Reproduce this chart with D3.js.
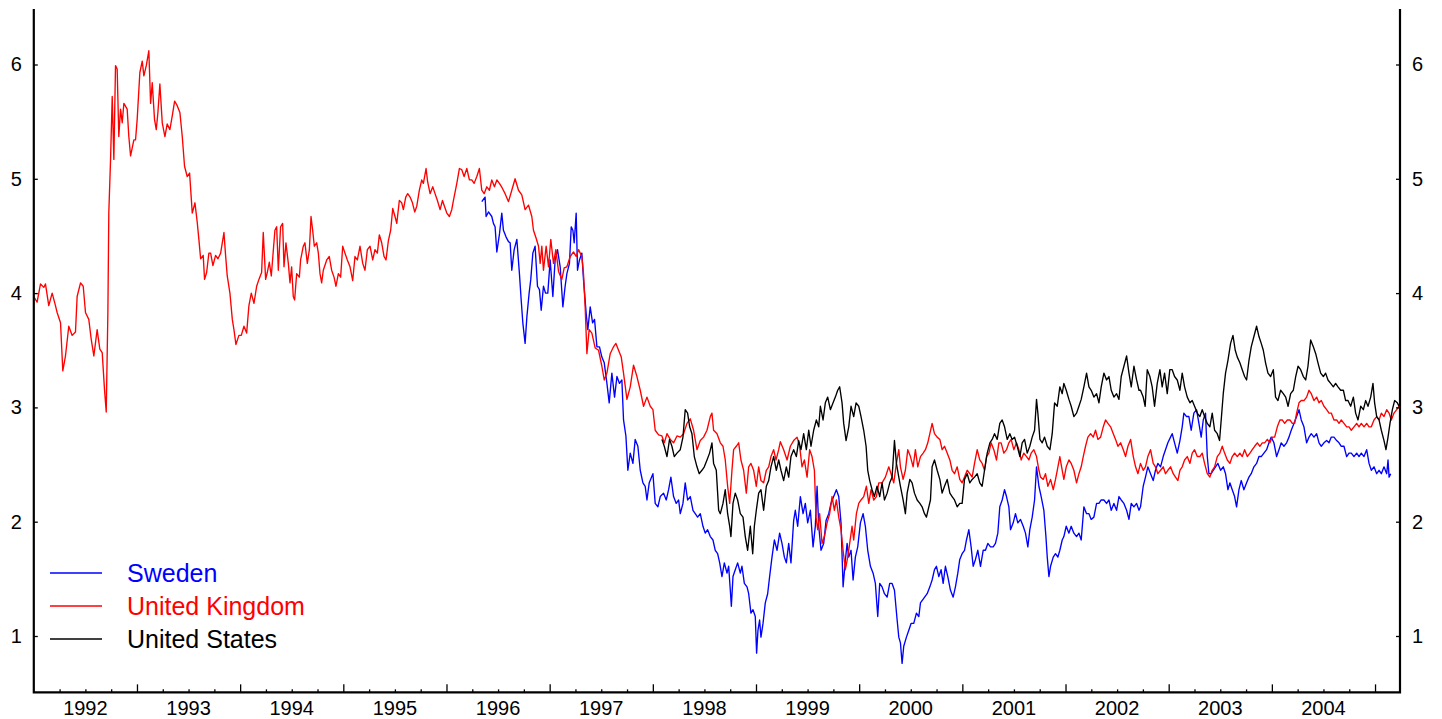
<!DOCTYPE html>
<html>
<head>
<meta charset="utf-8">
<script src="https://cdn.jsdelivr.net/npm/d3@7"></script>
<style>
  html, body { margin: 0; padding: 0; background: #fff; }
  svg { display: block; }
</style>
</head>
<body>
<svg id="chart" width="1442" height="719"></svg>
<script>
// ---- Data: [decimal year, value] ----
const ukData = [
[1992.000,3.97],[1992.032,3.92],[1992.065,4.08],[1992.097,4.05],[1992.113,4.08],[1992.145,3.89],[1992.178,4.00],[1992.210,3.89],
[1992.226,3.83],[1992.259,3.74],[1992.281,3.32],[1992.307,3.45],[1992.339,3.71],[1992.372,3.63],[1992.404,3.66],[1992.420,3.97],
[1992.453,4.09],[1992.479,4.06],[1992.501,3.83],[1992.533,3.77],[1992.556,3.60],[1992.582,3.45],[1992.614,3.68],[1992.640,3.51],
[1992.663,3.48],[1992.685,3.16],[1992.702,2.96],[1992.718,3.83],[1992.727,4.70],[1992.744,5.17],[1992.760,5.72],[1992.776,5.17],
[1992.792,5.99],[1992.808,5.96],[1992.824,5.37],[1992.841,5.61],[1992.857,5.49],[1992.873,5.66],[1992.905,5.61],[1992.921,5.37],
[1992.938,5.20],[1992.970,5.34],[1992.986,5.34],[1993.002,5.52],[1993.028,5.93],[1993.051,6.03],[1993.067,5.90],[1993.090,5.99],
[1993.115,6.12],[1993.132,5.66],[1993.148,5.84],[1993.170,5.52],[1993.187,5.43],[1993.203,5.58],[1993.222,5.83],[1993.245,5.49],
[1993.271,5.37],[1993.293,5.48],[1993.319,5.43],[1993.342,5.55],[1993.365,5.68],[1993.390,5.64],[1993.416,5.58],[1993.439,5.37],
[1993.461,5.11],[1993.487,5.02],[1993.510,5.05],[1993.536,4.70],[1993.562,4.79],[1993.584,4.62],[1993.600,4.47],[1993.617,4.30],
[1993.642,4.33],[1993.655,4.12],[1993.675,4.18],[1993.697,4.35],[1993.714,4.35],[1993.736,4.24],[1993.762,4.33],[1993.785,4.30],
[1993.811,4.35],[1993.843,4.53],[1993.859,4.33],[1993.875,4.15],[1993.901,4.00],[1993.924,3.77],[1993.940,3.68],[1993.959,3.55],
[1993.988,3.63],[1994.011,3.63],[1994.037,3.71],[1994.063,3.65],[1994.085,3.89],[1994.108,4.00],[1994.134,3.91],[1994.160,4.06],
[1994.182,4.12],[1994.208,4.18],[1994.224,4.53],[1994.247,4.12],[1994.263,4.18],[1994.283,4.27],[1994.302,4.15],
[1994.337,4.55],[1994.354,4.58],[1994.370,4.20],[1994.392,4.58],[1994.412,4.61],[1994.425,4.23],[1994.444,4.44],[1994.467,4.26],
[1994.483,4.09],[1994.499,4.23],[1994.515,3.97],[1994.528,3.94],[1994.548,4.17],[1994.574,4.14],[1994.586,4.29],[1994.612,4.41],
[1994.628,4.44],[1994.651,4.26],[1994.671,4.38],[1994.687,4.67],[1994.703,4.55],[1994.719,4.41],[1994.742,4.44],[1994.758,4.35],
[1994.774,4.17],[1994.790,4.09],[1994.806,4.20],[1994.839,4.29],[1994.864,4.32],[1994.887,4.20],[1994.910,4.14],[1994.929,4.06],
[1994.952,4.17],[1994.974,4.14],[1994.994,4.41],[1995.016,4.35],[1995.039,4.29],[1995.065,4.23],[1995.091,4.11],[1995.113,4.32],
[1995.136,4.29],[1995.162,4.41],[1995.188,4.26],[1995.210,4.20],[1995.233,4.38],[1995.259,4.41],[1995.285,4.29],[1995.307,4.38],
[1995.330,4.35],[1995.349,4.51],[1995.372,4.44],[1995.395,4.32],[1995.414,4.29],[1995.437,4.46],[1995.459,4.55],[1995.479,4.74],
[1995.501,4.67],[1995.518,4.61],[1995.543,4.81],[1995.566,4.79],[1995.582,4.73],[1995.605,4.84],[1995.624,4.87],[1995.647,4.84],
[1995.670,4.79],[1995.692,4.71],[1995.712,4.76],[1995.737,4.90],[1995.760,4.99],[1995.776,4.96],[1995.802,5.09],[1995.818,4.97],
[1995.841,4.87],[1995.867,4.93],[1995.889,4.87],[1995.912,4.81],[1995.938,4.73],[1995.961,4.81],[1995.980,4.76],[1996.003,4.70],
[1996.028,4.67],[1996.051,4.73],[1996.067,4.81],[1996.100,4.96],[1996.125,5.09],[1996.148,5.08],[1996.171,5.02],[1996.197,5.09],
[1996.222,4.99],[1996.245,4.99],[1996.268,4.96],[1996.294,5.02],[1996.319,5.09],[1996.342,4.90],[1996.365,4.87],[1996.391,4.93],
[1996.416,4.90],[1996.439,4.99],[1996.465,4.93],[1996.488,4.99],[1996.513,4.96],[1996.540,4.92],[1996.568,4.87],[1996.601,4.80],
[1996.633,4.90],[1996.665,5.00],[1996.698,4.90],[1996.730,4.86],[1996.762,4.73],[1996.795,4.77],[1996.827,4.67],[1996.843,4.55],
[1996.869,4.48],[1996.892,4.41],[1996.908,4.26],[1996.924,4.41],[1996.940,4.20],[1996.966,4.41],[1996.989,4.23],[1997.011,4.47],
[1997.037,4.26],[1997.060,4.38],[1997.086,4.19],[1997.118,4.12],[1997.141,4.22],[1997.167,4.23],[1997.199,4.32],[1997.231,4.36],
[1997.257,4.32],[1997.280,4.38],[1997.312,4.32],[1997.328,4.17],[1997.344,3.88],[1997.361,3.47],[1997.383,3.68],[1997.409,3.65],
[1997.441,3.52],[1997.474,3.50],[1997.506,3.36],[1997.529,3.24],[1997.555,3.30],[1997.587,3.47],[1997.619,3.53],[1997.642,3.56],
[1997.668,3.50],[1997.694,3.44],[1997.716,3.30],[1997.749,3.07],[1997.781,3.18],[1997.813,3.37],[1997.846,3.27],[1997.878,3.15],
[1997.910,3.01],[1997.943,3.09],[1997.975,3.01],[1998.001,2.98],[1998.023,2.80],[1998.056,2.76],[1998.088,2.75],[1998.111,2.69],
[1998.137,2.77],[1998.169,2.72],[1998.201,2.69],[1998.234,2.75],[1998.266,2.74],[1998.298,2.77],[1998.331,2.86],[1998.363,2.90],
[1998.395,2.80],[1998.428,2.63],[1998.460,2.71],[1998.492,2.74],[1998.525,2.80],[1998.557,2.92],[1998.573,2.95],[1998.589,2.80],
[1998.622,2.77],[1998.654,2.69],[1998.680,2.66],[1998.702,2.54],[1998.725,2.31],[1998.745,2.16],[1998.767,2.45],[1998.783,2.63],
[1998.809,2.66],[1998.832,2.69],[1998.854,2.54],[1998.880,2.45],[1998.906,2.25],[1998.929,2.48],[1998.951,2.51],[1998.977,2.45],
[1999.003,2.31],[1999.026,2.48],[1999.048,2.36],[1999.074,2.34],[1999.100,2.45],[1999.123,2.48],[1999.145,2.57],[1999.171,2.63],
[1999.194,2.54],[1999.220,2.63],[1999.236,2.70],[1999.268,2.63],[1999.301,2.54],[1999.333,2.66],[1999.365,2.71],[1999.398,2.74],
[1999.423,2.66],[1999.446,2.48],[1999.469,2.54],[1999.495,2.39],[1999.520,2.63],[1999.543,2.57],[1999.566,2.45],[1999.582,2.04],
[1999.598,1.93],[1999.617,2.07],[1999.640,1.81],[1999.663,1.87],[1999.689,1.99],[1999.714,2.07],[1999.737,2.22],[1999.760,2.10],
[1999.779,2.19],[1999.802,2.04],[1999.824,1.93],[1999.844,1.75],[1999.866,1.58],[1999.889,1.69],[1999.908,1.81],[1999.931,1.96],
[1999.947,1.84],[1999.973,2.07],[1999.996,2.16],[2000.018,2.19],[2000.044,2.22],[2000.070,2.31],[2000.093,2.16],[2000.115,2.28],
[2000.141,2.19],[2000.167,2.22],[2000.190,2.34],[2000.222,2.34],[2000.254,2.39],[2000.287,2.48],[2000.309,2.42],[2000.335,2.34],
[2000.361,2.51],[2000.384,2.63],[2000.400,2.48],[2000.426,2.37],[2000.448,2.45],[2000.471,2.63],[2000.497,2.57],[2000.523,2.48],
[2000.545,2.63],[2000.568,2.48],[2000.594,2.57],[2000.620,2.60],[2000.642,2.63],[2000.665,2.69],[2000.685,2.77],[2000.707,2.86],
[2000.730,2.77],[2000.756,2.74],[2000.782,2.72],[2000.804,2.63],[2000.827,2.66],[2000.853,2.60],[2000.879,2.54],[2000.901,2.45],
[2000.924,2.42],[2000.950,2.48],[2000.975,2.37],[2000.998,2.34],[2001.021,2.39],[2001.047,2.45],[2001.072,2.42],[2001.095,2.39],
[2001.118,2.51],[2001.144,2.63],[2001.169,2.54],[2001.192,2.51],[2001.215,2.45],[2001.234,2.57],[2001.257,2.60],[2001.279,2.69],
[2001.305,2.63],[2001.331,2.54],[2001.354,2.69],[2001.376,2.69],[2001.402,2.60],[2001.428,2.63],[2001.451,2.69],[2001.473,2.72],
[2001.499,2.63],[2001.525,2.69],[2001.548,2.63],[2001.570,2.54],[2001.596,2.60],[2001.622,2.57],[2001.645,2.54],[2001.667,2.60],
[2001.693,2.63],[2001.719,2.57],[2001.742,2.45],[2001.758,2.39],[2001.784,2.37],[2001.806,2.42],[2001.829,2.31],[2001.855,2.37],
[2001.881,2.28],[2001.903,2.37],[2001.920,2.45],[2001.945,2.57],[2001.968,2.45],[2001.984,2.37],[2002.007,2.48],[2002.033,2.54],
[2002.055,2.51],[2002.081,2.45],[2002.107,2.34],[2002.130,2.42],[2002.152,2.48],[2002.172,2.57],[2002.194,2.66],[2002.217,2.74],
[2002.243,2.77],[2002.269,2.74],[2002.291,2.80],[2002.314,2.72],[2002.340,2.74],[2002.366,2.83],[2002.388,2.89],[2002.411,2.86],
[2002.437,2.83],[2002.463,2.77],[2002.485,2.72],[2002.508,2.66],[2002.534,2.69],[2002.560,2.63],[2002.582,2.57],[2002.605,2.66],
[2002.631,2.72],[2002.657,2.57],[2002.679,2.48],[2002.702,2.42],[2002.727,2.51],[2002.753,2.45],[2002.775,2.48],[2002.798,2.57],
[2002.824,2.63],[2002.850,2.51],[2002.872,2.48],[2002.895,2.42],[2002.921,2.45],[2002.947,2.48],[2002.969,2.42],[2002.992,2.45],
[2003.018,2.48],[2003.044,2.42],[2003.066,2.39],[2003.089,2.36],[2003.109,2.45],[2003.131,2.48],[2003.154,2.54],[2003.180,2.57],
[2003.206,2.51],[2003.228,2.60],[2003.251,2.63],[2003.277,2.57],[2003.302,2.57],[2003.325,2.60],[2003.348,2.51],[2003.374,2.42],
[2003.399,2.39],[2003.422,2.45],[2003.445,2.48],[2003.471,2.57],[2003.496,2.60],[2003.519,2.66],[2003.542,2.60],[2003.568,2.54],
[2003.593,2.51],[2003.616,2.57],[2003.639,2.60],[2003.665,2.57],[2003.690,2.60],[2003.713,2.57],[2003.736,2.63],[2003.762,2.57],
[2003.787,2.60],[2003.810,2.63],[2003.833,2.66],[2003.859,2.69],[2003.884,2.66],[2003.907,2.69],[2003.930,2.69],[2003.956,2.72],
[2003.981,2.69],[2004.004,2.74],[2004.027,2.74],[2004.053,2.83],[2004.078,2.89],[2004.101,2.89],[2004.124,2.86],[2004.150,2.89],
[2004.175,2.89],[2004.198,2.86],[2004.221,2.86],[2004.240,2.95],[2004.263,3.04],[2004.285,3.06],[2004.311,3.06],[2004.337,3.09],
[2004.360,3.15],[2004.382,3.12],[2004.408,3.06],[2004.434,3.09],[2004.457,3.04],[2004.479,3.06],[2004.505,3.01],[2004.531,2.98],
[2004.554,2.95],[2004.576,2.95],[2004.602,2.89],[2004.628,2.89],[2004.651,2.86],[2004.673,2.89],[2004.699,2.86],[2004.725,2.83],
[2004.748,2.83],[2004.770,2.80],[2004.796,2.83],[2004.822,2.86],[2004.845,2.83],[2004.867,2.86],[2004.893,2.83],[2004.919,2.86],
[2004.942,2.83],[2004.964,2.83],[2004.990,2.89],[2005.016,2.92],[2005.039,2.89],[2005.061,2.95],[2005.087,2.92],[2005.113,2.98],
[2005.136,2.95],[2005.158,2.89],[2005.184,2.95],[2005.210,2.98],[2005.233,3.01]
];

const swedenData = [
[1996.342,4.80],[1996.374,4.84],[1996.384,4.67],[1996.407,4.71],[1996.439,4.67],[1996.455,4.61],[1996.471,4.58],[1996.488,4.36],
[1996.514,4.52],[1996.536,4.70],[1996.552,4.55],[1996.578,4.49],[1996.601,4.45],[1996.617,4.44],[1996.633,4.20],[1996.656,4.38],
[1996.682,4.47],[1996.707,4.17],[1996.724,3.94],[1996.740,3.74],[1996.762,3.56],[1996.779,3.79],[1996.801,4.00],[1996.817,4.12],
[1996.837,4.35],[1996.859,4.41],[1996.882,4.06],[1996.901,4.03],[1996.918,3.85],[1996.940,4.06],[1996.960,4.00],[1996.982,4.00],
[1997.005,4.29],[1997.031,3.97],[1997.053,4.29],[1997.076,4.38],[1997.102,4.23],[1997.128,3.88],[1997.150,4.06],[1997.167,4.17],
[1997.192,4.26],[1997.209,4.58],[1997.225,4.55],[1997.238,4.44],[1997.257,4.70],[1997.270,4.20],[1997.289,4.29],[1997.312,4.35],
[1997.328,4.12],[1997.354,3.82],[1997.370,3.68],[1997.393,3.88],[1997.416,3.74],[1997.435,3.77],[1997.458,3.53],[1997.483,3.53],
[1997.506,3.44],[1997.529,3.39],[1997.555,3.21],[1997.577,3.04],[1997.603,3.30],[1997.629,3.09],[1997.652,3.27],[1997.677,3.21],
[1997.700,3.24],[1997.716,2.89],[1997.739,2.75],[1997.758,2.45],[1997.781,2.60],[1997.807,2.51],[1997.829,2.72],[1997.855,2.66],
[1997.878,2.45],[1997.904,2.34],[1997.926,2.31],[1997.943,2.19],[1997.965,2.34],[1998.001,2.42],[1998.023,2.16],[1998.049,2.13],
[1998.072,2.22],[1998.104,2.25],[1998.130,2.19],[1998.153,2.28],[1998.175,2.39],[1998.201,2.22],[1998.227,2.16],[1998.250,2.19],
[1998.266,2.07],[1998.292,2.16],[1998.314,2.34],[1998.337,2.19],[1998.363,2.22],[1998.389,2.10],[1998.411,2.07],[1998.434,2.04],
[1998.460,2.07],[1998.486,1.96],[1998.508,1.90],[1998.531,1.93],[1998.557,1.87],[1998.583,1.84],[1998.605,1.75],[1998.628,1.72],
[1998.648,1.64],[1998.670,1.52],[1998.693,1.64],[1998.719,1.55],[1998.735,1.61],[1998.751,1.40],[1998.761,1.26],[1998.777,1.52],
[1998.799,1.58],[1998.822,1.64],[1998.848,1.55],[1998.864,1.61],[1998.887,1.46],[1998.913,1.43],[1998.929,1.37],[1998.951,1.20],
[1998.971,1.23],[1998.993,1.17],[1999.006,0.85],[1999.019,1.05],[1999.035,1.14],[1999.048,0.99],[1999.068,1.11],[1999.090,1.29],
[1999.113,1.37],[1999.132,1.52],[1999.155,1.69],[1999.178,1.84],[1999.204,1.75],[1999.229,1.90],[1999.252,1.81],[1999.275,1.69],
[1999.294,1.64],[1999.317,1.81],[1999.339,1.64],[1999.365,2.01],[1999.381,2.10],[1999.404,1.96],[1999.430,2.22],[1999.456,2.07],
[1999.478,2.16],[1999.501,1.99],[1999.527,2.10],[1999.553,1.78],[1999.575,1.96],[1999.592,2.31],[1999.608,1.96],[1999.630,1.75],
[1999.656,1.81],[1999.679,2.01],[1999.705,2.07],[1999.727,2.16],[1999.753,2.22],[1999.779,2.28],[1999.802,2.22],[1999.824,1.99],
[1999.844,1.43],[1999.866,1.66],[1999.883,1.81],[1999.899,1.69],[1999.921,1.75],[1999.941,1.49],[1999.963,1.69],[1999.986,1.78],
[2000.012,1.99],[2000.038,2.07],[2000.060,1.96],[2000.083,1.75],[2000.109,1.61],[2000.135,1.55],[2000.157,1.46],[2000.180,1.17],
[2000.199,1.46],[2000.222,1.43],[2000.245,1.37],[2000.271,1.34],[2000.296,1.46],[2000.319,1.46],[2000.342,1.40],[2000.368,1.14],
[2000.384,0.99],[2000.400,0.94],[2000.416,0.76],[2000.432,0.91],[2000.458,0.99],[2000.481,1.05],[2000.503,1.11],[2000.529,1.11],
[2000.555,1.20],[2000.578,1.17],[2000.594,1.29],[2000.659,1.37],[2000.685,1.43],[2000.707,1.49],[2000.730,1.58],[2000.749,1.61],
[2000.772,1.52],[2000.794,1.58],[2000.814,1.46],[2000.836,1.61],[2000.859,1.52],[2000.885,1.40],[2000.911,1.34],[2000.933,1.43],
[2000.956,1.55],[2000.975,1.67],[2000.998,1.72],[2001.021,1.75],[2001.040,1.84],[2001.063,1.93],[2001.085,1.78],[2001.105,1.61],
[2001.127,1.67],[2001.150,1.75],[2001.176,1.61],[2001.202,1.75],[2001.224,1.75],[2001.247,1.81],[2001.273,1.78],[2001.299,1.78],
[2001.321,1.81],[2001.344,1.90],[2001.363,2.13],[2001.386,2.19],[2001.409,2.28],[2001.428,2.22],[2001.451,2.13],[2001.467,1.93],
[2001.493,1.99],[2001.515,2.07],[2001.538,1.99],[2001.564,2.02],[2001.590,1.96],[2001.612,1.90],[2001.635,1.78],[2001.654,1.93],
[2001.677,2.04],[2001.700,2.19],[2001.719,2.48],[2001.742,2.31],[2001.764,2.22],[2001.790,2.10],[2001.810,1.87],[2001.823,1.69],
[2001.839,1.52],[2001.855,1.61],[2001.881,1.69],[2001.903,1.72],[2001.926,1.69],[2001.945,1.75],[2001.968,1.84],[2001.984,1.87],
[2002.007,1.96],[2002.033,1.90],[2002.055,1.96],[2002.081,1.90],[2002.107,1.87],[2002.130,1.90],[2002.152,1.84],[2002.178,2.13],
[2002.204,2.07],[2002.227,2.07],[2002.249,2.02],[2002.275,2.04],[2002.301,2.16],[2002.324,2.16],[2002.346,2.19],[2002.372,2.19],
[2002.398,2.16],[2002.421,2.19],[2002.443,2.10],[2002.469,2.16],[2002.495,2.10],[2002.518,2.22],[2002.540,2.19],[2002.566,2.16],
[2002.592,2.10],[2002.615,2.02],[2002.637,2.16],[2002.663,2.13],[2002.689,2.16],[2002.712,2.10],[2002.727,2.13],[2002.753,2.31],
[2002.775,2.39],[2002.798,2.48],[2002.824,2.42],[2002.850,2.36],[2002.872,2.45],[2002.895,2.51],[2002.921,2.48],[2002.947,2.57],
[2002.969,2.63],[2002.992,2.69],[2003.018,2.74],[2003.034,2.77],[2003.057,2.69],[2003.083,2.60],[2003.109,2.71],[2003.131,2.83],
[2003.147,2.95],[2003.173,2.92],[2003.196,2.92],[2003.218,2.80],[2003.244,2.95],[2003.270,2.98],[2003.293,2.86],[2003.315,2.74],
[2003.335,2.89],[2003.357,2.95],[2003.374,2.57],[2003.390,2.42],[2003.412,2.42],[2003.432,2.45],[2003.454,2.48],[2003.477,2.51],
[2003.503,2.45],[2003.529,2.48],[2003.551,2.42],[2003.574,2.28],[2003.593,2.34],[2003.616,2.28],[2003.639,2.22],[2003.658,2.13],
[2003.681,2.28],[2003.703,2.36],[2003.729,2.28],[2003.755,2.34],[2003.778,2.39],[2003.800,2.42],[2003.826,2.48],[2003.852,2.51],
[2003.875,2.57],[2003.897,2.57],[2003.923,2.60],[2003.949,2.63],[2003.972,2.69],[2003.994,2.74],[2004.020,2.69],[2004.046,2.57],
[2004.069,2.63],[2004.091,2.69],[2004.117,2.66],[2004.143,2.69],[2004.166,2.74],[2004.188,2.80],[2004.214,2.86],[2004.240,2.92],
[2004.263,2.98],[2004.285,2.89],[2004.311,2.83],[2004.337,2.69],[2004.360,2.74],[2004.382,2.77],[2004.408,2.74],[2004.434,2.77],
[2004.457,2.69],[2004.479,2.66],[2004.505,2.69],[2004.531,2.71],[2004.554,2.69],[2004.576,2.74],[2004.602,2.74],[2004.628,2.71],
[2004.651,2.69],[2004.673,2.66],[2004.699,2.66],[2004.725,2.57],[2004.748,2.60],[2004.770,2.60],[2004.796,2.57],[2004.822,2.60],
[2004.845,2.57],[2004.867,2.60],[2004.893,2.57],[2004.919,2.63],[2004.942,2.51],[2004.964,2.45],[2004.990,2.48],[2005.016,2.42],
[2005.039,2.45],[2005.061,2.42],[2005.087,2.48],[2005.113,2.42],[2005.126,2.54],[2005.136,2.39],[2005.152,2.42]
];

const usData = [
[1998.088,2.72],[1998.111,2.66],[1998.137,2.57],[1998.162,2.72],[1998.185,2.66],[1998.208,2.57],[1998.234,2.60],[1998.266,2.63],
[1998.292,2.74],[1998.314,2.98],[1998.337,2.95],[1998.357,2.83],[1998.379,2.77],[1998.402,2.57],[1998.428,2.48],[1998.450,2.42],
[1998.476,2.45],[1998.499,2.48],[1998.525,2.54],[1998.550,2.60],[1998.573,2.69],[1998.589,2.51],[1998.615,2.45],[1998.638,2.10],
[1998.654,2.07],[1998.680,2.16],[1998.702,2.28],[1998.725,2.07],[1998.745,1.96],[1998.757,1.87],[1998.777,2.16],[1998.799,2.25],
[1998.822,2.19],[1998.848,2.07],[1998.874,2.04],[1998.896,1.87],[1998.919,1.75],[1998.945,1.96],[1998.968,1.72],[1998.984,1.96],
[1999.003,2.10],[1999.026,2.25],[1999.048,2.28],[1999.074,2.10],[1999.100,2.31],[1999.123,2.36],[1999.145,2.48],[1999.171,2.57],
[1999.197,2.45],[1999.220,2.54],[1999.242,2.45],[1999.268,2.36],[1999.294,2.48],[1999.317,2.39],[1999.339,2.57],[1999.365,2.63],
[1999.391,2.57],[1999.414,2.71],[1999.436,2.63],[1999.462,2.77],[1999.488,2.63],[1999.511,2.80],[1999.533,2.66],[1999.559,2.80],
[1999.585,2.89],[1999.608,2.83],[1999.624,3.01],[1999.650,2.89],[1999.672,3.04],[1999.695,3.09],[1999.721,2.98],[1999.747,3.04],
[1999.769,3.09],[1999.792,3.15],[1999.811,3.18],[1999.834,3.04],[1999.850,2.86],[1999.873,2.71],[1999.899,2.83],[1999.921,3.01],
[1999.947,2.92],[1999.970,3.04],[1999.996,3.01],[2000.018,2.92],[2000.044,2.80],[2000.067,2.66],[2000.083,2.45],[2000.102,2.36],
[2000.125,2.28],[2000.147,2.22],[2000.173,2.31],[2000.199,2.22],[2000.222,2.34],[2000.245,2.19],[2000.271,2.25],[2000.296,2.34],
[2000.319,2.39],[2000.342,2.71],[2000.361,2.51],[2000.384,2.39],[2000.400,2.31],[2000.426,2.19],[2000.448,2.07],[2000.465,2.25],
[2000.491,2.37],[2000.513,2.34],[2000.536,2.25],[2000.562,2.19],[2000.588,2.16],[2000.610,2.13],[2000.633,2.07],[2000.652,2.04],
[2000.675,2.13],[2000.691,2.19],[2000.707,2.48],[2000.730,2.54],[2000.756,2.45],[2000.782,2.37],[2000.804,2.25],[2000.827,2.31],
[2000.853,2.37],[2000.879,2.25],[2000.901,2.22],[2000.924,2.19],[2000.950,2.13],[2000.975,2.16],[2000.998,2.16],[2001.021,2.37],
[2001.047,2.42],[2001.072,2.34],[2001.095,2.37],[2001.118,2.39],[2001.144,2.42],[2001.169,2.34],[2001.192,2.31],[2001.215,2.45],
[2001.241,2.60],[2001.267,2.69],[2001.289,2.72],[2001.312,2.77],[2001.338,2.72],[2001.363,2.86],[2001.386,2.89],[2001.409,2.83],
[2001.435,2.72],[2001.460,2.77],[2001.483,2.72],[2001.506,2.74],[2001.532,2.66],[2001.558,2.57],[2001.580,2.69],[2001.603,2.72],
[2001.629,2.60],[2001.654,2.66],[2001.677,2.74],[2001.700,2.80],[2001.719,3.07],[2001.732,2.95],[2001.752,2.72],[2001.774,2.69],
[2001.797,2.74],[2001.823,2.66],[2001.849,2.63],[2001.871,2.77],[2001.894,3.04],[2001.920,3.01],[2001.945,3.18],[2001.968,3.12],
[2001.984,3.21],[2002.007,3.15],[2002.033,3.07],[2002.055,3.01],[2002.081,2.92],[2002.107,2.95],[2002.130,3.01],[2002.152,3.07],
[2002.178,3.18],[2002.204,3.30],[2002.227,3.18],[2002.249,3.15],[2002.275,3.09],[2002.301,3.12],[2002.324,3.04],[2002.346,3.18],
[2002.372,3.30],[2002.398,3.24],[2002.421,3.27],[2002.443,3.15],[2002.469,3.09],[2002.495,3.12],[2002.518,3.07],[2002.540,3.27],
[2002.566,3.36],[2002.592,3.45],[2002.615,3.30],[2002.637,3.18],[2002.663,3.36],[2002.689,3.24],[2002.712,3.15],[2002.727,3.15],
[2002.753,3.09],[2002.772,3.01],[2002.792,3.33],[2002.818,3.27],[2002.840,3.18],[2002.863,3.01],[2002.889,3.21],[2002.915,3.33],
[2002.937,3.18],[2002.960,3.30],[2002.986,3.12],[2003.011,3.33],[2003.034,3.33],[2003.057,3.27],[2003.083,3.24],[2003.109,3.15],
[2003.131,3.30],[2003.154,3.18],[2003.180,3.09],[2003.206,3.04],[2003.228,3.06],[2003.251,3.01],[2003.277,2.95],[2003.302,2.92],
[2003.325,2.98],[2003.348,2.92],[2003.374,2.86],[2003.399,2.83],[2003.422,2.95],[2003.445,2.80],[2003.471,2.77],[2003.493,2.71],
[2003.509,2.89],[2003.529,3.12],[2003.551,3.30],[2003.574,3.41],[2003.600,3.56],[2003.623,3.63],[2003.645,3.50],[2003.665,3.44],
[2003.690,3.39],[2003.713,3.33],[2003.736,3.27],[2003.755,3.24],[2003.778,3.41],[2003.800,3.53],[2003.826,3.62],[2003.852,3.71],
[2003.875,3.62],[2003.897,3.56],[2003.917,3.50],[2003.939,3.39],[2003.962,3.30],[2003.988,3.27],[2004.014,3.33],[2004.036,3.09],
[2004.059,3.06],[2004.085,3.15],[2004.111,3.12],[2004.134,3.09],[2004.157,3.01],[2004.182,3.12],[2004.208,3.15],[2004.231,3.27],
[2004.254,3.36],[2004.279,3.33],[2004.305,3.27],[2004.328,3.24],[2004.350,3.36],[2004.376,3.59],[2004.402,3.53],[2004.425,3.47],
[2004.447,3.39],[2004.473,3.30],[2004.499,3.27],[2004.521,3.30],[2004.544,3.24],[2004.570,3.21],[2004.596,3.18],[2004.618,3.21],
[2004.641,3.18],[2004.667,3.15],[2004.693,3.15],[2004.715,3.06],[2004.738,3.06],[2004.764,3.01],[2004.790,3.09],[2004.812,2.95],
[2004.835,2.89],[2004.861,3.01],[2004.887,2.98],[2004.909,3.06],[2004.932,3.01],[2004.958,3.09],[2004.980,3.21],[2004.996,3.04],
[2005.016,2.92],[2005.039,2.89],[2005.061,2.80],[2005.087,2.71],[2005.106,2.63],[2005.126,2.74],[2005.145,2.86],[2005.168,2.98],
[2005.190,3.06],[2005.216,3.04],[2005.233,3.01]
];

const seriesNames = ["Sweden", "United Kingdom", "United States"];
const seriesColors = ["#0000ff", "#ff0000", "#000000"];
const yTicks = [1, 2, 3, 4, 5, 6];
const yearLabels = ["1992","1993","1994","1995","1996","1997","1998","1999","2000","2001","2002","2003","2004"];

// ---- Chart ----
const FONT = "'Liberation Sans', Arial, Helvetica, sans-serif";
const svg = d3.select("#chart");
const x = d3.scaleLinear().domain([1992, 2005.242]).range([33.8, 1400]);
const y = d3.scaleLinear().domain([1, 6]).range([636, 64.5]);
const yTop = 6.486, yBottom = 0.507;

// Lines
const line = d3.line().x(d => x(d[0])).y(d => y(d[1]));
const allSeries = [swedenData, ukData, usData];
allSeries.forEach((data, i) => {
  svg.append("path")
    .datum(data)
    .attr("fill", "none")
    .attr("stroke", seriesColors[i])
    .attr("stroke-width", 1.35)
    .attr("stroke-linejoin", "round")
    .attr("d", line);
});

// Axes
const x0 = x.range()[0], x1 = x.range()[1];
const yb = y(yBottom), yt = y(yTop);

const majorYears = d3.range(1993, 2006);
const minorQuarters = [];
for (let yr = 1992; yr < 2005.2; yr++) {
  [0.25, 0.5, 0.75].forEach(q => { if (yr + q < 2005.24) minorQuarters.push(yr + q); });
}

const gxMajor = svg.append("g").attr("transform", `translate(0,${yb})`)
  .call(d3.axisBottom(x).tickValues(majorYears).tickSizeInner(-8).tickSizeOuter(0).tickFormat(""));
const gxMinor = svg.append("g").attr("transform", `translate(0,${yb})`)
  .call(d3.axisBottom(x).tickValues(minorQuarters).tickSizeInner(-3).tickSizeOuter(0).tickFormat(""));
[gxMajor, gxMinor].forEach(g => {
  g.select(".domain").remove();
  g.selectAll(".tick line").attr("stroke", "#000").attr("stroke-width", 1.3);
});

// year labels centred in each year
svg.append("g").selectAll("text")
  .data(yearLabels)
  .join("text")
  .attr("x", d => x(+d + 0.5))
  .attr("y", yb + 23)
  .attr("text-anchor", "middle")
  .attr("font-family", FONT)
  .attr("font-size", 20)
  .attr("fill", "#000")
  .text(d => d);

const gyL = svg.append("g").attr("transform", `translate(${x0},0)`)
  .call(d3.axisLeft(y).tickValues(yTicks).tickSizeInner(-4).tickSizeOuter(0).tickPadding(12).tickFormat(d3.format("d")));
const gyR = svg.append("g").attr("transform", `translate(${x1},0)`)
  .call(d3.axisRight(y).tickValues(yTicks).tickSizeInner(-4).tickSizeOuter(0).tickPadding(12).tickFormat(d3.format("d")));
[gyL, gyR].forEach(g => {
  g.select(".domain").remove();
  g.selectAll(".tick line").attr("stroke", "#000").attr("stroke-width", 1.3);
  g.selectAll(".tick text").attr("font-family", FONT).attr("font-size", 20).attr("fill", "#000");
});

// frame lines (left, bottom, right)
svg.append("path")
  .attr("d", `M${x0},${yt}V${yb}H${x1}V${yt}`)
  .attr("fill", "none")
  .attr("stroke", "#000")
  .attr("stroke-width", 2.2);

// Legend
const legendY = d3.scalePoint().domain(seriesNames).range([573, 639]);
const lg = svg.append("g");
seriesNames.forEach((name, i) => {
  const ly = legendY(name);
  lg.append("line")
    .attr("x1", 50).attr("x2", 102)
    .attr("y1", ly).attr("y2", ly)
    .attr("stroke", seriesColors[i])
    .attr("stroke-width", 1.3);
  lg.append("text")
    .attr("x", 127).attr("y", ly + 9)
    .attr("font-family", FONT)
    .attr("font-size", 25)
    .attr("fill", seriesColors[i])
    .text(name);
});
</script>
</body>
</html>
